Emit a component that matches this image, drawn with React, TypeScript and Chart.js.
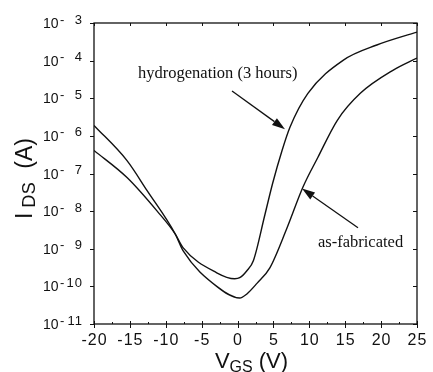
import { useEffect, useRef } from "react";
import { Chart, registerables } from "chart.js";

Chart.register(...registerables);

// Transfer curves: gate voltage (V) and drain current (A)
const gateVoltageAsFab = [-20, -15.4, -12.6, -8.7, -7.6, -2.9, 0.3, 1.3, 2.7, 4.5, 6.9, 9.1, 11.2, 13.9, 17.1, 21.7, 25];
const drainCurrentAsFab = [1.9e-6, 2.2e-7, 3.5e-8, 2.5e-9, 8.9e-10, 1.0e-10, 4.9e-11, 6.3e-11, 1.2e-10, 3.1e-10, 3.6e-9, 4.3e-8, 2.7e-7, 2.6e-6, 1.35e-5, 5.6e-5, 1.17e-4];

const gateVoltageHyd = [-20, -15.4, -11.2, -8.7, -7.6, -2.9, -0.4, 0.3, 1.3, 2.2, 3.8, 4.9, 6.2, 7.3, 9.8, 14.7, 19.4, 25];
const drainCurrentHyd = [4.1e-7, 7.8e-8, 1.0e-8, 2.5e-9, 1.07e-9, 2.3e-10, 1.6e-10, 1.7e-10, 2.6e-10, 4.8e-10, 7.9e-9, 5.6e-8, 4.1e-7, 1.7e-6, 1.35e-5, 1.02e-4, 2.6e-4, 5.75e-4];

// Axis ticks
const xTickValues = [-20, -15, -10, -5, 0, 5, 10, 15, 20, 25];
const xMinorTickValues = [-17.5, -12.5, -7.5, -2.5, 2.5, 7.5, 12.5, 17.5, 22.5];
const yDecadeExponents = [-11, -10, -9, -8, -7, -6, -5, -4, -3];

// Callouts: [label x (V), label baseline (A), arrow tail x, tail y, arrow tip x, tip y]
const calloutHydLabel = "hydrogenation (3 hours)";
const calloutHydPos = [-13.87, 3.4e-5, -0.77, 1.55e-5, 6.61, 1.5e-6];
const calloutAsFabLabel = "as-fabricated";
const calloutAsFabPos = [11.2, 1.1e-9, 16.78, 3.6e-9, 8.98, 4.0e-8];

const SANS = '"Liberation Sans", Arial, sans-serif';
const SERIF = '"Liberation Serif", "Times New Roman", serif';

function drawArrow(ctx: CanvasRenderingContext2D, x0: number, y0: number, x1: number, y1: number) {
  const ang = Math.atan2(y1 - y0, x1 - x0);
  const headLen = 13;
  const headHalf = 4.2;
  const bx = x1 - headLen * Math.cos(ang);
  const by = y1 - headLen * Math.sin(ang);
  ctx.beginPath();
  ctx.moveTo(x0, y0);
  ctx.lineTo(bx, by);
  ctx.lineWidth = 1.3;
  ctx.stroke();
  ctx.beginPath();
  ctx.moveTo(x1, y1);
  ctx.lineTo(bx - headHalf * Math.sin(ang), by + headHalf * Math.cos(ang));
  ctx.lineTo(bx + headHalf * Math.sin(ang), by - headHalf * Math.cos(ang));
  ctx.closePath();
  ctx.fill();
}

const framePlugin = {
  id: "frameAndLabels",
  afterDraw(chart: any) {
    const { ctx, chartArea: a, scales } = chart;
    const xs = scales.x;
    const ys = scales.y;
    ctx.save();
    ctx.strokeStyle = "#111";
    ctx.fillStyle = "#111";

    // plot box
    ctx.lineWidth = 1.3;
    ctx.strokeRect(a.left, a.top, a.right - a.left, a.bottom - a.top);

    // x ticks
    ctx.lineWidth = 1;
    for (const v of xTickValues) {
      const px = Math.round(xs.getPixelForValue(v)) + 0.5;
      ctx.beginPath();
      ctx.moveTo(px, a.bottom - 3);
      ctx.lineTo(px, a.bottom + 4);
      ctx.moveTo(px, a.top);
      ctx.lineTo(px, a.top + 3);
      ctx.stroke();
    }
    for (const v of xMinorTickValues) {
      const px = Math.round(xs.getPixelForValue(v)) + 0.5;
      ctx.beginPath();
      ctx.moveTo(px, a.bottom - 2);
      ctx.lineTo(px, a.bottom);
      ctx.stroke();
    }
    // y ticks
    for (const e of yDecadeExponents) {
      const py = Math.round(ys.getPixelForValue(Math.pow(10, e))) + 0.5;
      ctx.beginPath();
      ctx.moveTo(a.left - 4, py);
      ctx.lineTo(a.left, py);
      ctx.moveTo(a.right - 4, py);
      ctx.lineTo(a.right, py);
      ctx.stroke();
    }

    // x tick labels
    ctx.font = `16px ${SANS}`;
    ctx.textAlign = "center";
    ctx.textBaseline = "alphabetic";
    (ctx as any).letterSpacing = "1px";
    for (const v of xTickValues) {
      const px = xs.getPixelForValue(v);
      ctx.fillText(String(v), px + 0.5, a.bottom + 21);
    }
    (ctx as any).letterSpacing = "0px";

    // y tick labels: 10 with raised exponent
    const rightEdge = a.left - 11;
    const tenRight = a.left - 35.5;
    for (const e of yDecadeExponents) {
      const py = ys.getPixelForValue(Math.pow(10, e));
      const mag = String(Math.abs(e));
      ctx.font = `13px ${SANS}`;
      ctx.textAlign = "right";
      (ctx as any).letterSpacing = "1px";
      ctx.fillText(mag, rightEdge, py + 0.5);
      (ctx as any).letterSpacing = "0px";
      ctx.textAlign = "left";
      ctx.fillText("-", tenRight + 1.5, py + 0.5);
      ctx.font = `14px ${SANS}`;
      ctx.textAlign = "right";
      ctx.fillText("10", tenRight, py + 5);
    }

    // x axis title: V_GS (V)
    {
      const big = `22px ${SANS}`;
      const small = `16px ${SANS}`;
      ctx.textAlign = "left";
      ctx.font = big;
      const wV = ctx.measureText("V").width;
      const wTail = ctx.measureText(" (V)").width;
      ctx.font = small;
      const wGS = ctx.measureText("GS").width;
      const total = wV + wGS + wTail;
      let x = (a.left + a.right) / 2 - 4 - total / 2;
      const base = a.bottom + 44;
      ctx.font = big;
      ctx.fillText("V", x, base);
      x += wV;
      ctx.font = small;
      ctx.fillText("GS", x, base + 4);
      x += wGS;
      ctx.font = big;
      ctx.fillText(" (V)", x, base);
    }

    // y axis title: I_DS (A), rotated
    {
      const big = `23px ${SANS}`;
      const small = `18px ${SANS}`;
      const gapAfterI = 5;
      const gapBeforeA = 13;
      ctx.save();
      ctx.translate(a.left - 62, (a.top + a.bottom) / 2 + 5);
      ctx.rotate(-Math.PI / 2);
      ctx.textAlign = "left";
      ctx.font = big;
      const wI = ctx.measureText("I").width;
      const wA = ctx.measureText("(A)").width;
      ctx.font = small;
      (ctx as any).letterSpacing = "0.5px";
      const wDS = ctx.measureText("DS").width;
      (ctx as any).letterSpacing = "0px";
      const total = wI + gapAfterI + wDS + gapBeforeA + wA;
      let x = -total / 2;
      ctx.font = big;
      ctx.fillText("I", x, 0);
      x += wI + gapAfterI;
      ctx.font = small;
      (ctx as any).letterSpacing = "0.5px";
      ctx.fillText("DS", x, 3);
      (ctx as any).letterSpacing = "0px";
      x += wDS + gapBeforeA;
      ctx.font = big;
      ctx.fillText("(A)", x, 0);
      ctx.restore();
    }

    // callouts
    ctx.font = `16.5px ${SERIF}`;
    ctx.textAlign = "left";
    const callouts: [string, number[]][] = [
      [calloutHydLabel, calloutHydPos],
      [calloutAsFabLabel, calloutAsFabPos],
    ];
    for (const [label, p] of callouts) {
      ctx.fillText(label, xs.getPixelForValue(p[0]), ys.getPixelForValue(p[1]));
      drawArrow(
        ctx,
        xs.getPixelForValue(p[2]),
        ys.getPixelForValue(p[3]),
        xs.getPixelForValue(p[4]),
        ys.getPixelForValue(p[5])
      );
    }

    ctx.restore();
  },
};

export default function App() {
  const canvasRef = useRef<HTMLCanvasElement | null>(null);

  useEffect(() => {
    if (!canvasRef.current) return;
    const toPoints = (xs: number[], ys: number[]) => xs.map((x, i) => ({ x, y: ys[i] }));
    const chart = new Chart(canvasRef.current, {
      type: "line",
      data: {
        datasets: [
          {
            label: "as-fabricated",
            data: toPoints(gateVoltageAsFab, drainCurrentAsFab),
            borderColor: "#111",
            borderWidth: 1.4,
            pointRadius: 0,
            cubicInterpolationMode: "monotone",
            fill: false,
          },
          {
            label: "hydrogenation (3 hours)",
            data: toPoints(gateVoltageHyd, drainCurrentHyd),
            borderColor: "#111",
            borderWidth: 1.4,
            pointRadius: 0,
            cubicInterpolationMode: "monotone",
            fill: false,
          },
        ],
      },
      options: {
        responsive: false,
        animation: false,
        devicePixelRatio: 1,
        layout: { padding: { left: 94, right: 16, top: 23, bottom: 48 } },
        plugins: { legend: { display: false }, tooltip: { enabled: false } },
        scales: {
          x: { type: "linear", min: -20, max: 25, display: false },
          y: { type: "logarithmic", min: 1e-11, max: 1e-3, display: false },
        },
      },
      plugins: [framePlugin],
    });
    return () => chart.destroy();
  }, []);

  return (
    <div style={{ position: "fixed", left: 0, top: 0, width: 433, height: 372, background: "#fff" }}>
      <canvas ref={canvasRef} width={433} height={372} />
    </div>
  );
}
